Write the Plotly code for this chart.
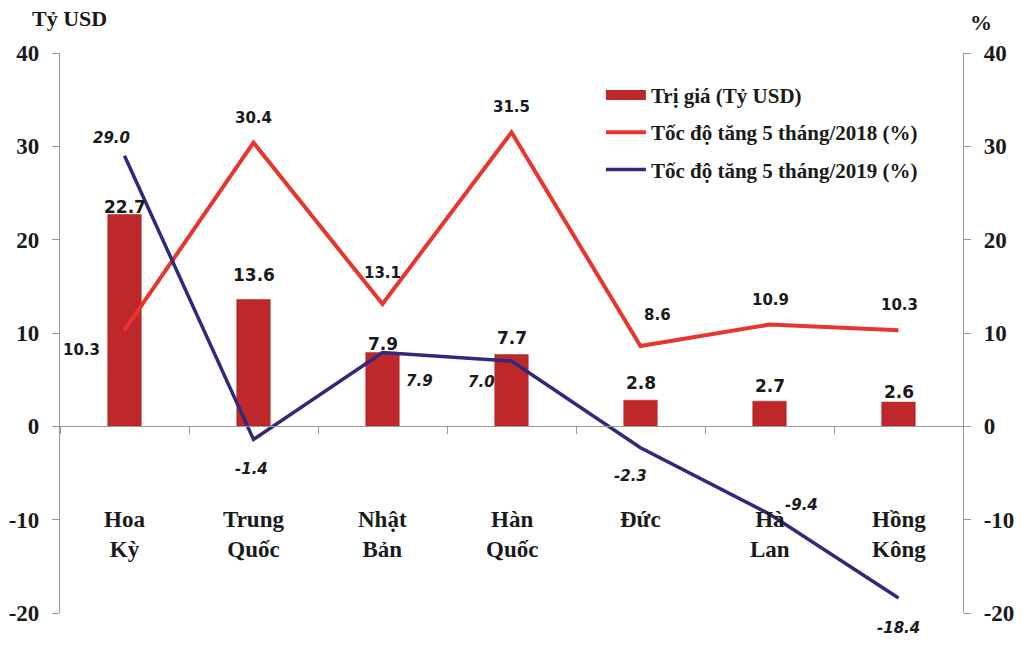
import plotly.graph_objects as go

# ---- data ----
categories = ["Hoa Kỳ", "Trung Quốc", "Nhật Bản", "Hàn Quốc", "Đức", "Hà Lan", "Hồng Kông"]
category_labels = ["Hoa<br>Kỳ", "Trung<br>Quốc", "Nhật<br>Bản", "Hàn<br>Quốc", "Đức", "Hà<br>Lan", "Hồng<br>Kông"]
tri_gia = [22.7, 13.6, 7.9, 7.7, 2.8, 2.7, 2.6]
toc_do_2018 = [10.3, 30.4, 13.1, 31.5, 8.6, 10.9, 10.3]
toc_do_2019 = [29.0, -1.4, 7.9, 7.0, -2.3, -9.4, -18.4]
y_ticks = [-20, -10, 0, 10, 20, 30, 40]
y_tick_text = ["-20", "-10", "0", "10", "20", "30", "40"]

# ---- label placement (pixel offsets from the data point) ----
bar_label_dy = [7, 24, 9, 16, 17, 15, 10]
off_2018 = [(-43, -20), (0, 25), (0, 31), (0, 25), (17, 31), (1, 25), (1, 25)]
off_2019 = [(-13, 18), (-2, -30), (37, -28), (-30, -21), (-10, -28), (32, 9), (0, -30)]

BAR = "#BF282B"
RED = "#E8362F"
NAVY = "#2F2A7E"
NUMFONT = "DejaVu Sans"
SERIF = "Liberation Serif"
TXT = "#1a1a1a"

fig = go.Figure()
fig.add_trace(go.Bar(
    x=categories, y=tri_gia, name="Trị giá (Tỷ USD)",
    marker=dict(color=BAR, line=dict(color="#A82222", width=0.5)),
    width=0.26, showlegend=False,
))
# legend entry for the bars drawn as a wide rectangle
fig.add_trace(go.Scatter(
    x=[None], y=[None], mode="lines", name="Trị giá (Tỷ USD)",
    line=dict(color=BAR, width=10), legendgroup="a",
))
fig.add_trace(go.Scatter(
    x=categories, y=toc_do_2018, name="Tốc độ tăng 5 tháng/2018 (%)",
    mode="lines", line=dict(color=RED, width=4),
    yaxis="y2", cliponaxis=False, legendgroup="b",
))
fig.add_trace(go.Scatter(
    x=categories, y=toc_do_2019, name="Tốc độ tăng 5 tháng/2019 (%)",
    mode="lines", line=dict(color=NAVY, width=3.5),
    yaxis="y2", cliponaxis=False, legendgroup="c",
))

annotations = []
for cat, v, dy in zip(categories, tri_gia, bar_label_dy):
    annotations.append(dict(x=cat, y=v, xref="x", yref="y", text=f"<b>{v:.1f}</b>",
                            showarrow=False, yanchor="middle", yshift=dy,
                            font=dict(family=NUMFONT, size=17, color=TXT)))
for cat, v, (dx, dy) in zip(categories, toc_do_2018, off_2018):
    annotations.append(dict(x=cat, y=v, xref="x", yref="y2", text=f"<b>{v:.1f}</b>",
                            showarrow=False, xshift=dx, yshift=dy,
                            font=dict(family=NUMFONT, size=15, color=TXT)))
for cat, v, (dx, dy) in zip(categories, toc_do_2019, off_2019):
    annotations.append(dict(x=cat, y=v, xref="x", yref="y2", text=f"<b><i>{v:.1f}</i></b>",
                            showarrow=False, xshift=dx, yshift=dy,
                            font=dict(family=NUMFONT, size=15, color=TXT)))
for cat, lab in zip(categories, category_labels):
    annotations.append(dict(x=cat, y=-8.4, xref="x", yref="y", text=f"<b>{lab}</b>",
                            showarrow=False, yanchor="top",
                            font=dict(family=SERIF, size=23, color=TXT)))
annotations.append(dict(x=-0.0332, y=1.0625, xref="paper", yref="paper", text="<b>Tỷ USD</b>",
                        showarrow=False, xanchor="left", yanchor="middle",
                        font=dict(family=SERIF, size=22, color=TXT)))
annotations.append(dict(x=1.0055, y=1.055, xref="paper", yref="paper", text="<b>%</b>",
                        showarrow=False, xanchor="left", yanchor="middle",
                        font=dict(family=SERIF, size=22, color=TXT)))

yaxis_common = dict(
    range=[-20, 40], tickvals=y_ticks, ticktext=y_tick_text,
    showgrid=False, zeroline=False, automargin=False,
    showline=True, linecolor="#999999", linewidth=1.2,
    ticks="outside", ticklen=7, tickcolor="#999999",
    tickfont=dict(family=SERIF, size=23, color=TXT, weight="bold"),
    ticklabelstandoff=8,
)

fig.update_layout(
    width=1008, height=630,
    margin=dict(l=52, r=53, t=45, b=25, autoexpand=False),
    paper_bgcolor="white", plot_bgcolor="white",
    barmode="overlay",
    xaxis=dict(type="category", range=[-0.5, 6.5], showgrid=False, zeroline=False,
               showline=True, linecolor="#999999", linewidth=1.2, automargin=False,
               ticks="outside", tickson="boundaries", ticklen=7, tickcolor="#999999",
               showticklabels=False, anchor="free", position=1/3),
    yaxis=dict(**yaxis_common, side="left"),
    yaxis2=dict(**yaxis_common, side="right", overlaying="y"),
    legend=dict(x=0.599, y=0.961, xanchor="left", yanchor="top",
                bgcolor="rgba(0,0,0,0)", itemwidth=40, tracegroupgap=7,
                font=dict(family=SERIF, size=21, color=TXT, weight="bold")),
    showlegend=True,
    annotations=annotations,
)

fig.write_html("out.html")
